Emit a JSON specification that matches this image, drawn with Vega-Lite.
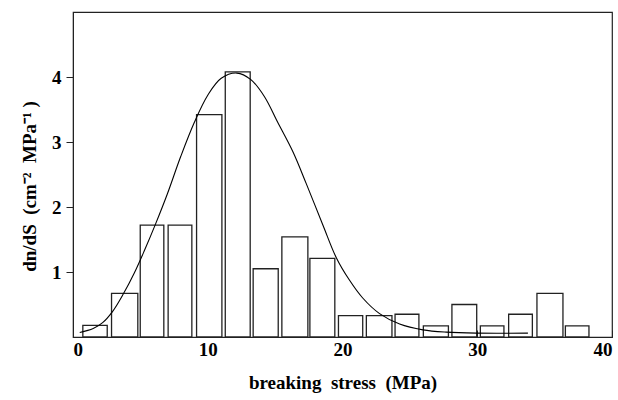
{
  "$schema": "https://vega.github.io/schema/vega-lite/v6.json",
  "width": 539,
  "height": 325,
  "autosize": {"type": "none"},
  "padding": {"left": 73, "top": 12, "right": 6, "bottom": 63},
  "background": "white",
  "config": {
    "view": {"stroke": "#222", "strokeWidth": 1.2},
    "font": "Liberation Serif",
    "axis": {
      "grid": false,
      "domainColor": "#222",
      "tickColor": "#222",
      "labelFont": "Liberation Serif",
      "labelFontWeight": "bold",
      "labelFontSize": 19,
      "labelColor": "black",
      "titleFont": "Liberation Serif",
      "titleFontWeight": "bold",
      "titleFontSize": 19,
      "titleColor": "black"
    }
  },
  "datasets": {
    "bars": [
      {"s0": 0.73, "s1": 2.54, "v": 0.18},
      {"s0": 2.86, "s1": 4.81, "v": 0.67},
      {"s0": 4.99, "s1": 6.74, "v": 1.72},
      {"s0": 7.06, "s1": 8.82, "v": 1.72},
      {"s0": 9.17, "s1": 11.05, "v": 3.42},
      {"s0": 11.3, "s1": 13.15, "v": 4.08},
      {"s0": 13.37, "s1": 15.23, "v": 1.05},
      {"s0": 15.5, "s1": 17.43, "v": 1.54},
      {"s0": 17.58, "s1": 19.43, "v": 1.21},
      {"s0": 19.7, "s1": 21.5, "v": 0.33},
      {"s0": 21.77, "s1": 23.67, "v": 0.33},
      {"s0": 23.9, "s1": 25.67, "v": 0.35},
      {"s0": 26.0, "s1": 27.86, "v": 0.17},
      {"s0": 28.12, "s1": 29.96, "v": 0.5},
      {"s0": 30.23, "s1": 31.98, "v": 0.17},
      {"s0": 32.33, "s1": 34.09, "v": 0.35},
      {"s0": 34.43, "s1": 36.36, "v": 0.67},
      {"s0": 36.54, "s1": 38.29, "v": 0.17}
    ],
    "curve": [
      {"s": 0.5, "v": 0.07},
      {"s": 1.5, "v": 0.13},
      {"s": 2.2, "v": 0.22},
      {"s": 2.93, "v": 0.39},
      {"s": 3.73, "v": 0.66},
      {"s": 4.54, "v": 0.98},
      {"s": 5.3, "v": 1.33},
      {"s": 6.13, "v": 1.74},
      {"s": 7.0, "v": 2.2},
      {"s": 8.0, "v": 2.78},
      {"s": 9.0, "v": 3.3},
      {"s": 10.0, "v": 3.72},
      {"s": 11.0, "v": 3.98},
      {"s": 12.16, "v": 4.06},
      {"s": 13.2, "v": 3.96},
      {"s": 14.2, "v": 3.7},
      {"s": 15.2, "v": 3.3},
      {"s": 16.32, "v": 2.85},
      {"s": 17.31, "v": 2.36},
      {"s": 18.55, "v": 1.72},
      {"s": 19.54, "v": 1.22},
      {"s": 20.5, "v": 0.88},
      {"s": 21.5, "v": 0.6},
      {"s": 22.75, "v": 0.36},
      {"s": 24.24, "v": 0.2},
      {"s": 25.97, "v": 0.11},
      {"s": 27.7, "v": 0.075},
      {"s": 29.93, "v": 0.06},
      {"s": 33.76, "v": 0.06}
    ]
  },
  "layer": [
    {
      "data": {"name": "bars"},
      "mark": {"type": "rect", "fill": "white", "stroke": "#222", "strokeWidth": 1.3},
      "encoding": {
        "x": {
          "field": "s0", "type": "quantitative",
          "scale": {"domain": [0, 40], "nice": false, "zero": false},
          "axis": {
            "title": "breaking\u00a0\u00a0stress\u00a0\u00a0(MPa)",
            "values": [0, 10, 20, 30, 40],
            "format": "d",
            "tickSize": -7,
            "labelPadding": 10,
            "titlePadding": 14
          }
        },
        "x2": {"field": "s1"},
        "y": {
          "field": "v", "type": "quantitative",
          "scale": {"domain": [0, 5], "nice": false},
          "axis": {
            "title": "dn/dS\u00a0\u00a0(cm⁻²\u00a0\u00a0MPa⁻¹\u00a0)",
            "values": [1, 2, 3, 4],
            "format": "d",
            "tickSize": 7,
            "labelPadding": 5,
            "titleX": -44,
            "titleY": 174,
            "titleAngle": -90,
            "titleAlign": "center",
            "titleBaseline": "middle"
          }
        },
        "y2": {"datum": 0}
      }
    },
    {
      "data": {"name": "curve"},
      "mark": {"type": "line", "color": "black", "strokeWidth": 1.1, "interpolate": "catmull-rom"},
      "encoding": {
        "x": {"field": "s", "type": "quantitative"},
        "y": {"field": "v", "type": "quantitative"}
      }
    }
  ]
}
